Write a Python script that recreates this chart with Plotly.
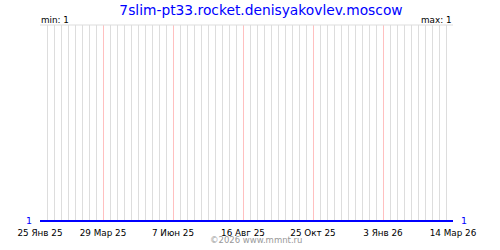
import plotly.graph_objects as go
import pandas as pd

# ---- data ----
dates = ["2025-01-25", "2026-03-14"]
values = [1, 1]
tick_dates = ["2025-01-25", "2025-03-29", "2025-06-07", "2025-08-16",
              "2025-10-25", "2026-01-03", "2026-03-14"]
tick_labels = ["25 Янв 25", "29 Мар 25", "7 Июн 25", "16 Авг 25",
               "25 Окт 25", "3 Янв 26", "14 Мар 26"]
title_text = "7slim-pt33.rocket.denisyakovlev.moscow"
min_val = min(values)
max_val = max(values)
Y_TOP = 2

# weekly grid dates (excluding major tick dates)
weeks = pd.date_range(dates[0], dates[-1], freq="7D").strftime("%Y-%m-%d")
minor_dates = [d for d in weeks if d not in tick_dates]

FONT = "DejaVu Sans"
W, H = 500, 250
L, R, T, B = 40, 47, 25, 24

fig = go.Figure()
fig.add_trace(go.Scatter(x=dates, y=values, mode="lines",
                         line=dict(color="#0000ff", width=2),
                         hoverinfo="skip", showlegend=False))

fig.update_layout(
    width=W, height=H,
    margin=dict(l=L, r=R, t=T, b=B, pad=0),
    paper_bgcolor="white", plot_bgcolor="white",
    showlegend=False,
    xaxis=dict(
        type="date",
        range=[dates[0], dates[-1]],
        tickvals=tick_dates, ticktext=tick_labels,
        tickfont=dict(family=FONT, size=8.8, color="black"),
        ticks="outside", ticklen=2, tickcolor="rgba(0,0,0,0)",
        showgrid=True, gridcolor="#ffc0c0", gridwidth=1,
        minor=dict(tickvals=minor_dates, showgrid=True,
                   gridcolor="#dddddd", gridwidth=1, ticks=""),
        zeroline=False, showline=False, fixedrange=True,
    ),
    yaxis=dict(
        range=[0.995, Y_TOP], showticklabels=False, ticks="",
        showgrid=False, zeroline=False, showline=False,
    ),
    title=dict(text=title_text, xref="paper", x=(261 - L) / (W - L - R),
               xanchor="center", yref="container", y=1 - 10 / H,
               yanchor="middle",
               font=dict(family=FONT, size=13.8, color="#0000ff")),
    shapes=[dict(type="line", xref="paper", yref="paper", x0=0, x1=1,
                 y0=1, y1=1, line=dict(color="#dddddd", width=1))],
    annotations=[
        dict(text=str(min_val), xref="paper", yref="y", x=0, y=min_val,
             xanchor="right", yanchor="middle", xshift=-6, yshift=1,
             showarrow=False,
             font=dict(family=FONT, size=9.5, color="#0000ff")),
        dict(text=str(max_val), xref="paper", yref="y", x=1, y=max_val,
             xanchor="left", yanchor="middle", xshift=6, yshift=1,
             showarrow=False,
             font=dict(family=FONT, size=9.5, color="#0000ff")),
        dict(text=f"min: {min_val}", xref="paper", yref="paper", x=0,
             y=1, xanchor="left", yanchor="middle", showarrow=False,
             xshift=-1, yshift=5,
             font=dict(family=FONT, size=8.8, color="black")),
        dict(text=f"max: {max_val}", xref="paper", yref="paper", x=1,
             y=1, xanchor="right", yanchor="middle", showarrow=False,
             xshift=1, yshift=5,
             font=dict(family=FONT, size=8.8, color="black")),
        dict(text="©2026 www.mmnt.ru", xref="paper", yref="paper",
             x=(256 - L) / (W - L - R), y=0, yanchor="top",
             xanchor="center", yshift=-12, showarrow=False, borderpad=0,
             font=dict(family=FONT, size=8.5, color="#999999")),
    ],
)

fig.write_html("out.html")
